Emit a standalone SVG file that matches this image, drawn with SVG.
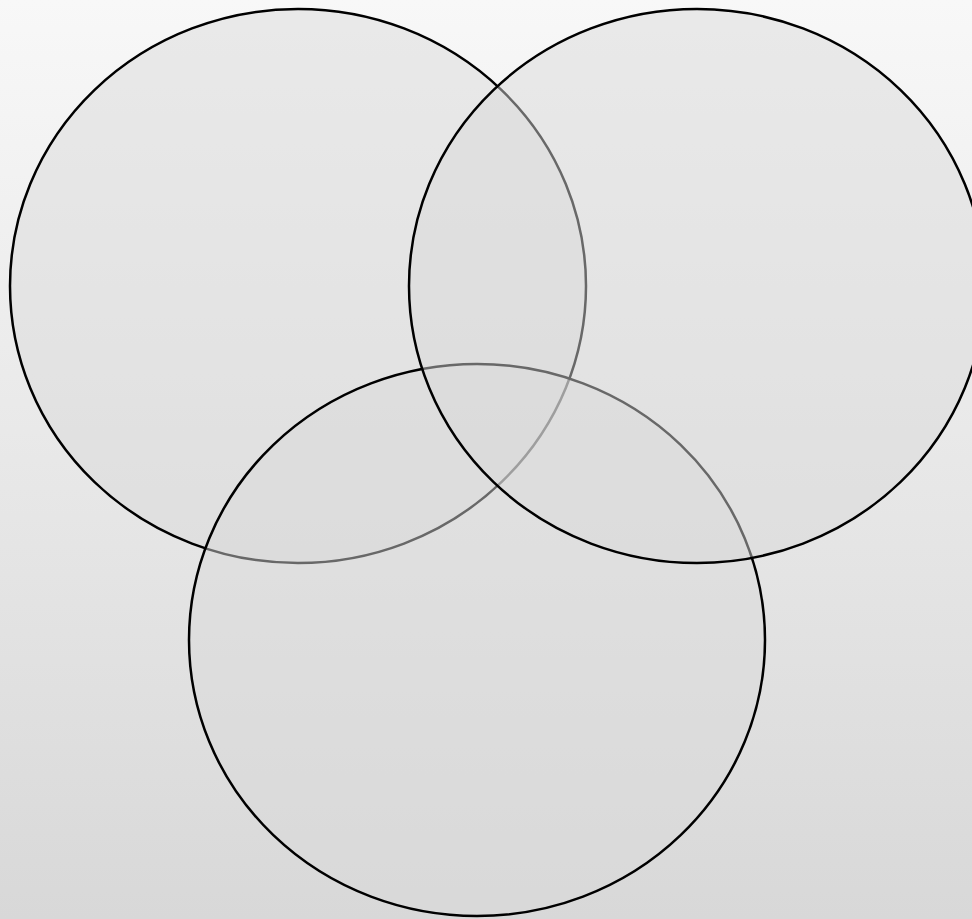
<svg xmlns="http://www.w3.org/2000/svg" width="972" height="919" viewBox="0 0 972 919">
<defs>
<linearGradient id="bg" x1="0" y1="0" x2="0" y2="1">
<stop offset="0" stop-color="#f8f8f8"/>
<stop offset="1" stop-color="#d8d8d8"/>
</linearGradient>
</defs>
<style>
.c{fill:rgba(218,218,218,0.48);stroke:#000;stroke-width:2.5}
</style>
<rect width="972" height="919" fill="url(#bg)"/>
<g id="circle-left"><ellipse class="c" cx="298" cy="286" rx="288" ry="277"/></g>
<g id="circle-bottom"><ellipse class="c" cx="477" cy="640" rx="288" ry="276"/></g>
<g id="circle-right"><ellipse class="c" cx="697" cy="286" rx="288" ry="277"/></g>
<g id="connectors"/>
</svg>
